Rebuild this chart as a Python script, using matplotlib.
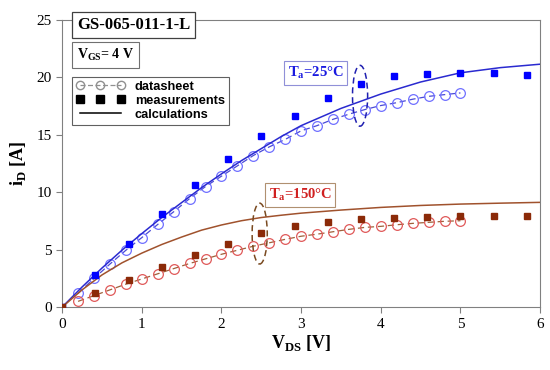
import numpy as np
import matplotlib
matplotlib.use("Agg")
import matplotlib.pyplot as plt
from matplotlib.lines import Line2D
from matplotlib.patches import Ellipse

# measurements (squares)
v_meas = [0, 0.417, 0.833, 1.25, 1.667, 2.083, 2.5, 2.917, 3.333, 3.75, 4.167, 4.583, 5.0, 5.417, 5.833]
i_meas_25 = [0.0, 2.8, 5.5, 8.1, 10.65, 12.9, 14.9, 16.6, 18.2, 19.4, 20.1, 20.3, 20.35, 20.4, 20.2]
i_meas_150 = [0.0, 1.19, 2.32, 3.45, 4.5, 5.49, 6.42, 7.08, 7.43, 7.67, 7.73, 7.81, 7.9, 7.95, 7.95]

# datasheet (open circles)
v_ds = [0.2, 0.4, 0.6, 0.8, 1.0, 1.2, 1.4, 1.6, 1.8, 2.0, 2.2, 2.4, 2.6,
        2.8, 3.0, 3.2, 3.4, 3.6, 3.8, 4.0, 4.2, 4.4, 4.6, 4.8, 5.0]
i_ds_25 = [1.2, 2.5, 3.75, 4.95, 6.05, 7.2, 8.3, 9.45, 10.5, 11.4, 12.3, 13.2, 13.95,
           14.6, 15.35, 15.8, 16.35, 16.8, 17.2, 17.55, 17.8, 18.1, 18.35, 18.5, 18.65]
i_ds_150 = [0.5, 1.0, 1.5, 2.0, 2.45, 2.9, 3.35, 3.8, 4.2, 4.6, 4.95, 5.3, 5.6,
            5.9, 6.17, 6.35, 6.56, 6.77, 6.94, 7.03, 7.17, 7.29, 7.38, 7.47, 7.52]

# calculations (lines)
v_calc_25 = [0, 0.25, 0.5, 0.75, 1.0, 1.25, 1.5, 1.75, 2.0, 2.25, 2.5, 2.75, 3.0,
             3.5, 4.0, 4.5, 5.0, 5.5, 6.0]
i_calc_25 = [0, 1.75, 3.4, 4.95, 6.4, 7.8, 9.1, 10.4, 11.6, 12.75, 13.8, 14.85, 15.8,
             17.3, 18.55, 19.6, 20.4, 20.85, 21.15]
v_calc_150 = [0, 0.25, 0.5, 0.75, 1.0, 1.25, 1.5, 1.75, 2.0, 2.25, 2.5, 2.75, 3.0,
              3.5, 4.0, 4.5, 5.0, 5.5, 6.0]
i_calc_150 = [0, 1.5, 2.8, 3.85, 4.7, 5.45, 6.1, 6.7, 7.15, 7.52, 7.8, 8.0, 8.18,
              8.45, 8.68, 8.85, 8.97, 9.05, 9.12]

serif = "Liberation Serif"
sans = "Liberation Sans"

fig = plt.figure(figsize=(5.5, 3.7), dpi=100)
ax = fig.add_axes([0.113, 0.170, 0.869, 0.776])

# 25 C
ax.plot(v_calc_25, i_calc_25, color="#2a2ad0", lw=1.1, zorder=3)
ax.plot(v_ds, i_ds_25, ls=(0, (5, 3)), color="#4a4ad8", lw=0.9,
        marker="o", ms=7, mfc="none", mec="#7070ff", mew=0.9, zorder=2)
ax.plot(v_meas, i_meas_25, ls="none", marker="s", ms=5, color="#0000ff", zorder=4)

# 150 C
ax.plot(v_calc_150, i_calc_150, color="#a0522d", lw=1.1, zorder=3)
ax.plot(v_ds, i_ds_150, ls=(0, (5, 3)), color="#a0603a", lw=0.9,
        marker="o", ms=7, mfc="none", mec="#e05a5a", mew=0.9, zorder=2)
ax.plot(v_meas, i_meas_150, ls="none", marker="s", ms=5, color="#8b2a08", zorder=4)

# ellipses
ax.add_patch(Ellipse((3.74, 18.4), 0.19, 5.3, fill=False, ls=(0, (4, 2.5)), lw=1.1, ec="#2020b0", zorder=5))
ax.add_patch(Ellipse((2.48, 6.4), 0.19, 5.3, fill=False, ls=(0, (4, 2.5)), lw=1.1, ec="#7a4a20", zorder=5))

# T_a labels
ax.text(3.18, 20.4, "T$_\\mathregular{a}$=25°C", color="#1a1ae0", fontsize=10.5, fontweight="bold",
        family=serif, ha="center", va="center",
        bbox=dict(boxstyle="square,pad=0.25", fc="white", ec="#9090d8", lw=0.8))
ax.text(2.99, 9.8, "T$_\\mathregular{a}$=150°C", color="#d02020", fontsize=10.5, fontweight="bold",
        family=serif, ha="center", va="center",
        bbox=dict(boxstyle="square,pad=0.25", fc="white", ec="#b09070", lw=0.8))

# title boxes
ax.text(0.15, 0.983, "GS-065-011-1-L", transform=ax.transAxes, fontsize=12, fontweight="bold",
        family=serif, ha="center", va="center", zorder=6,
        bbox=dict(boxstyle="square,pad=0.3", fc="white", ec="#404040", lw=0.9))
ax.text(0.091, 0.878, "V$_\\mathregular{GS}$= 4 V", transform=ax.transAxes, fontsize=10, fontweight="bold",
        family=serif, ha="center", va="center", zorder=6,
        bbox=dict(boxstyle="square,pad=0.35", fc="white", ec="#707070", lw=0.8))

# legend
handles = [
    Line2D([], [], ls=(0, (4, 2)), color="#909090", lw=0.9, marker="o", ms=6, mfc="none", mec="#909090"),
    Line2D([], [], ls="none", marker="s", ms=6, color="black"),
    Line2D([], [], ls="-", color="black", lw=1.1),
]
leg = ax.legend(handles, ["datasheet", "measurements", "calculations"], loc="upper left",
                bbox_to_anchor=(0.021, 0.801), borderaxespad=0, numpoints=3, fancybox=False,
                edgecolor="#606060", framealpha=1, handlelength=3.8, handletextpad=0.8,
                labelspacing=0.15, borderpad=0.3,
                prop={"family": sans, "weight": "bold", "size": 9.2})
leg.get_frame().set_linewidth(0.8)

ax.set_xlim(0, 6)
ax.set_ylim(0, 25)
ax.set_xticks(range(0, 7))
ax.set_yticks(range(0, 26, 5))
for s in ax.spines.values():
    s.set_color("#808080")
ax.tick_params(direction="out", length=4, color="#808080", labelsize=11)
for lab in ax.get_xticklabels() + ax.get_yticklabels():
    lab.set_family(serif)

ax.set_xlabel("V$_\\mathregular{DS}$ [V]", family=serif, fontweight="bold", fontsize=13, labelpad=2)
ax.set_ylabel("i$_\\mathregular{D}$ [A]", family=serif, fontweight="bold", fontsize=13, labelpad=6)

fig.savefig("out.png", dpi=100)
